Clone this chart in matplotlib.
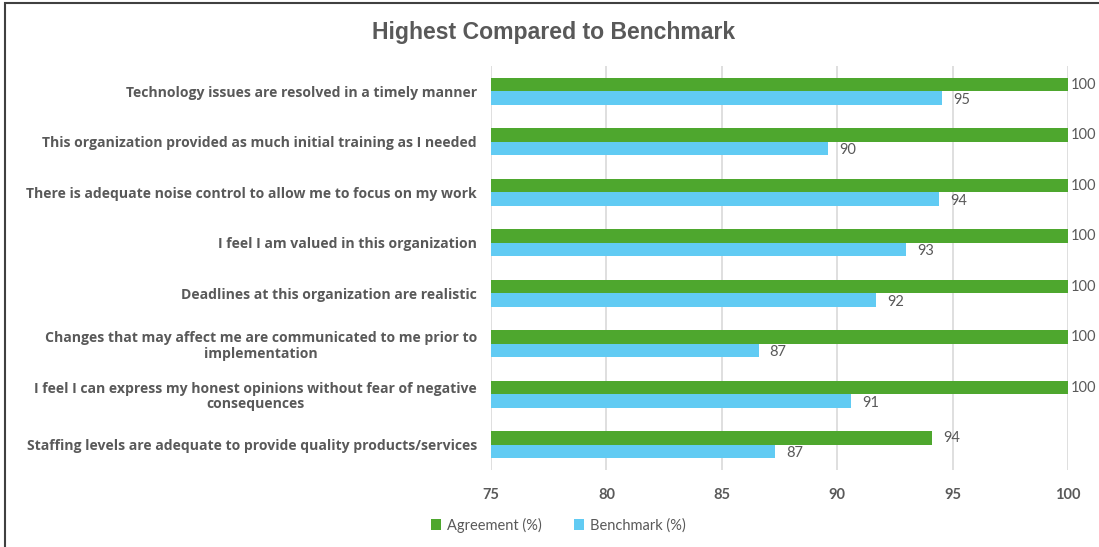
import numpy as np
import matplotlib.pyplot as plt
from matplotlib.patches import Rectangle

categories = [
    "Technology issues are resolved in a timely manner",
    "This organization provided as much initial training as I needed",
    "There is adequate noise control to allow me to focus on my work",
    "I feel I am valued in this organization",
    "Deadlines at this organization are realistic",
    "Changes that may affect me are communicated to me prior to\nimplementation",
    "I feel I can express my honest opinions without fear of negative\nconsequences",
    "Staffing levels are adequate to provide quality products/services",
]
agreement = [100, 100, 100, 100, 100, 100, 100, 94.1]
benchmark = [94.55, 89.6, 94.4, 93.0, 91.7, 86.6, 90.6, 87.3]
x_ticks = [75, 80, 85, 90, 95, 100]

GREEN = "#4EA72E"
BLUE = "#61CBF3"
GREY = "#595959"
LBL_FONT = ["Open Sans", "DejaVu Sans"]
NUM_FONT = ["Lato", "DejaVu Sans"]

plt.rcParams["font.family"] = ["Liberation Sans", "DejaVu Sans"]

fig = plt.figure(figsize=(10.99, 5.47), dpi=100)
ax = fig.add_axes([491 / 1099, 1 - 470 / 547, 577 / 1099, 404 / 547])

y = np.arange(len(categories))
h = 0.265
ax.barh(y - h / 2, agreement, height=h, color=GREEN, label="Agreement (%)", zorder=3)
ax.barh(y + h / 2, benchmark, height=h, color=BLUE, label="Benchmark (%)", zorder=3)

ax.set_xlim(75, 100)
ax.set_ylim(len(categories) - 0.5, -0.5)
ax.set_xticks(x_ticks)
ax.set_xticklabels([str(t) for t in x_ticks], fontsize=10.5, fontweight="bold",
                   color=GREY, family=NUM_FONT)
ax.set_yticks(y)
ax.set_yticklabels(categories, fontsize=10.1, fontweight="bold", color=GREY,
                   family=LBL_FONT, multialignment="center", linespacing=1.15)
ax.tick_params(axis="both", length=0)
ax.tick_params(axis="x", pad=13)
ax.tick_params(axis="y", pad=10)
ax.grid(axis="x", color="#D9D9D9", linewidth=1.2, zorder=0)
for s in ax.spines.values():
    s.set_visible(False)

for yi, v in zip(y, agreement):
    off = 3 if v >= 100 else 11
    ax.annotate(f"{v:.0f}", (v, yi - h / 2), xytext=(off, 0), textcoords="offset pixels",
                ha="left", va="center", fontsize=10.5, color=GREY,
                family=NUM_FONT, annotation_clip=False)
for yi, v in zip(y, benchmark):
    ax.annotate(f"{v:.0f}", (v, yi + h / 2), xytext=(11, -2), textcoords="offset pixels",
                ha="left", va="center", fontsize=10.5, color=GREY,
                family=NUM_FONT, annotation_clip=False)

fig.text(554 / 1099, 1 - 33 / 547, "Highest Compared to Benchmark", ha="center", va="center",
         fontsize=16.6, fontweight="bold", color=GREY)

fig.legend(loc="center", bbox_to_anchor=(558 / 1099, 1 - 525 / 547), ncol=2, frameon=False,
           labelcolor=GREY, handlelength=0.7, handleheight=0.7,
           handletextpad=0.4, columnspacing=2.2,
           prop={"family": NUM_FONT, "size": 10.5})

fig.add_artist(Rectangle((5 / 1099, -0.05), 1.2, 1 - 3 / 547 + 0.05, transform=fig.transFigure,
                         fill=False, edgecolor="#404040", linewidth=1.5))

fig.savefig("out.png", dpi=100)
